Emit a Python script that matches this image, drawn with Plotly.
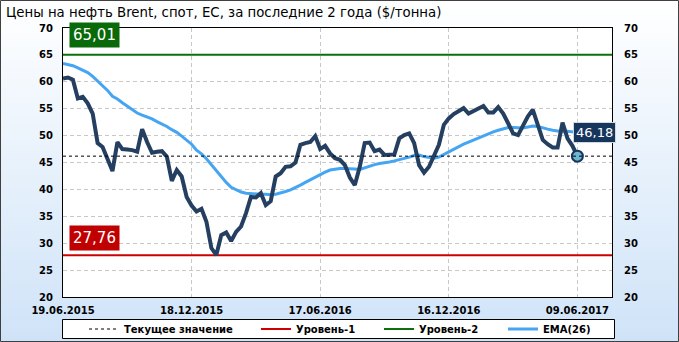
import base64
import plotly.graph_objects as go

# ---------------- data ----------------
title_text = "Цены на нефть Brent, спот, ЕС, за последние 2 года ($/тонна)"

tick_labels = ["19.06.2015", "18.12.2015", "17.06.2016", "16.12.2016", "09.06.2017"]
tick_index = [0, 26, 52, 78, 104]

price = [
    60.6, 60.8, 60.4, 56.9, 57.2, 56.0, 54.1, 48.6, 47.9, 45.8,
    43.4, 48.8, 47.5, 47.4, 47.3, 47.0, 51.2, 48.8, 46.8, 47.0,
    47.1, 46.1, 41.6, 43.6, 42.4, 38.6, 37.0, 35.9, 36.4, 34.0,
    29.1, 27.8, 31.5, 32.0, 30.4, 32.1, 33.1, 35.6, 38.6, 38.5,
    39.3, 37.1, 37.8, 42.4, 43.0, 44.2, 44.3, 45.0, 48.3, 48.6,
    48.8, 49.9, 47.5, 48.1, 46.7, 45.8, 45.5, 44.5, 42.2, 40.8,
    44.2, 48.6, 48.7, 47.1, 47.4, 46.4, 46.4, 46.5, 49.5, 50.1,
    50.4, 48.6, 44.5, 43.1, 44.2, 46.5, 48.3, 52.0, 53.2, 54.0,
    54.5, 55.1, 54.1, 54.6, 55.0, 55.5, 54.3, 54.3, 55.3, 54.1,
    52.3, 50.4, 50.1, 51.7, 53.6, 54.8, 51.7, 49.2, 48.4, 47.8,
    47.8, 52.4, 49.5, 48.1, 46.18,
]

ema26 = [
    63.4, 63.2, 63.0, 62.6, 62.2, 61.7, 61.0, 60.1, 59.3, 58.4,
    57.3, 56.8, 56.1, 55.5, 54.8, 54.2, 53.8, 53.5, 53.1, 52.6,
    52.2, 51.7, 51.1, 50.6, 49.9, 49.2, 48.4, 47.3, 46.6, 45.7,
    44.6, 43.4, 42.2, 41.3, 40.4, 39.9, 39.5, 39.3, 39.2, 39.2,
    39.1, 39.1, 39.0, 39.1, 39.3, 39.6, 39.9, 40.3, 40.8, 41.3,
    41.8, 42.3, 42.8, 43.2, 43.6, 43.8, 43.9, 43.9, 43.9, 43.8,
    43.7, 44.0, 44.4, 44.6, 44.8, 44.9, 45.1, 45.3, 45.5, 45.7,
    46.0, 46.3, 46.4, 46.1, 45.9, 45.8, 46.0, 46.5, 47.0, 47.5,
    48.0, 48.4, 48.8, 49.2, 49.5, 49.9, 50.3, 50.7, 51.0, 51.3,
    51.5, 51.5, 51.4, 51.4, 51.6, 51.8, 51.7, 51.4, 51.2, 51.0,
    50.8, 50.7, 50.8, 50.7, 50.6,
]

current_value = 46.18
level1 = 27.76
level2 = 65.01

legend_names = ["Текущее значение", "Уровень-1", "Уровень-2", "EMA(26)"]

# ---------------- geometry / styling ----------------
W, H = 679, 342
ML, MR, MT, MB = 63, 67, 28, 45
PW, PH = W - ML - MR, H - MT - MB
X_RANGE = [0, 111]
Y_RANGE = [20, 70]


def px_x(p):
    return (p - ML) / PW


def px_y(p):
    return (H - MB - p) / PH


def fmt(v):
    return f"{v:.2f}".replace(".", ",")


idx = list(range(len(price)))
fig = go.Figure()

fig.add_trace(go.Scatter(
    x=X_RANGE, y=[level1, level1], mode="lines", name=legend_names[1],
    line=dict(color="#cc0000", width=2), legend="legend2", hoverinfo="skip"))
fig.add_trace(go.Scatter(
    x=X_RANGE, y=[level2, level2], mode="lines", name=legend_names[2],
    line=dict(color="#0a700a", width=2), legend="legend3", hoverinfo="skip"))
fig.add_trace(go.Scatter(
    x=idx, y=ema26, mode="lines", name=legend_names[3],
    line=dict(color="#45a5f2", width=3), legend="legend4"))
fig.add_trace(go.Scatter(
    x=idx, y=price, mode="lines", name="Brent", showlegend=False,
    line=dict(color="#243f60", width=4)))
fig.add_trace(go.Scatter(
    x=X_RANGE, y=[current_value, current_value], mode="lines",
    name=legend_names[0], yaxis="y2", legend="legend",
    line=dict(color="black", width=1, dash="3px,3px"), hoverinfo="skip"))
fig.add_trace(go.Scatter(
    x=[idx[-1]], y=[price[-1]], mode="markers", showlegend=False,
    marker=dict(size=11, color="#6cb6cf", line=dict(color="#17365d", width=2))))

# background gradient
svg = (
    f'<svg xmlns="http://www.w3.org/2000/svg" width="{W}" height="{H}" '
    f'viewBox="0 0 {W} {H}" preserveAspectRatio="none">'
    '<defs><linearGradient id="g" x1="0" y1="0" x2="0" y2="1">'
    '<stop offset="0" stop-color="#ffffff"/>'
    '<stop offset="1" stop-color="#cfe3f8"/></linearGradient></defs>'
    f'<rect width="{W}" height="{H}" fill="url(#g)"/></svg>'
)
bg_src = "data:image/svg+xml;base64," + base64.b64encode(svg.encode()).decode()

tick_font = dict(family="DejaVu Sans", size=10, color="black", weight="bold")
grid_kw = dict(showgrid=True, gridcolor="#c8c8c8", gridwidth=1, griddash="4px,3px")
legend_font = dict(family="DejaVu Sans", size=10, color="black", weight="bold")


def legend_at(px_left):
    return dict(orientation="h", x=px_x(px_left), xanchor="left",
                y=px_y(329), yanchor="middle", bgcolor="rgba(0,0,0,0)",
                borderwidth=0, font=legend_font, itemwidth=30)


fig.update_layout(
    width=W, height=H,
    margin=dict(l=ML, r=MR, t=MT, b=MB, pad=0, autoexpand=False),
    paper_bgcolor="#e8f1fb",
    plot_bgcolor="white",
    title=dict(text=title_text, x=6 / W, xanchor="left", xref="container",
               y=1 - 12 / H, yanchor="middle", yref="container",
               font=dict(family="DejaVu Sans", size=13.3, color="black")),
    xaxis=dict(range=X_RANGE, tickmode="array", tickvals=tick_index,
               ticktext=tick_labels, tickfont=tick_font,
               showline=True, linecolor="black", linewidth=1, mirror=True,
               zeroline=False, ticks="", ticklabelstandoff=4, **grid_kw),
    yaxis=dict(range=Y_RANGE, dtick=5, tickfont=tick_font,
               showline=True, linecolor="black", linewidth=1, mirror=True,
               zeroline=False, ticks="", ticklabelstandoff=7, **grid_kw),
    yaxis2=dict(range=Y_RANGE, dtick=5, tickfont=tick_font, overlaying="y",
                side="right", showgrid=False, zeroline=False,
                showline=True, linecolor="black", linewidth=1, ticks="",
                ticklabelstandoff=9),
    showlegend=True,
    legend=legend_at(84),
    legend2=legend_at(256),
    legend3=legend_at(379),
    legend4=legend_at(503),
    images=[dict(source=bg_src, xref="paper", yref="paper",
                 x=px_x(0), y=px_y(0), sizex=W / PW, sizey=H / PH,
                 xanchor="left", yanchor="top", sizing="stretch", layer="below")],
    shapes=[
        dict(type="rect", xref="paper", yref="paper", layer="below",
             x0=0, x1=1, y0=0, y1=1, fillcolor="white", line=dict(width=0)),
        dict(type="rect", xref="paper", yref="paper", layer="above",
             x0=px_x(62.5), x1=px_x(614.5), y0=px_y(338.5), y1=px_y(319.5),
             fillcolor="white", line=dict(color="black", width=1)),
        dict(type="rect", xref="paper", yref="paper", layer="above",
             x0=px_x(0.5), x1=px_x(W - 0.5), y0=px_y(H - 0.5), y1=px_y(0.5),
             fillcolor="rgba(0,0,0,0)", line=dict(color="#404040", width=1)),
    ],
    annotations=[
        dict(text=fmt(level2), x=1.2, y=level2 + 1.3, xref="x", yref="y",
             xanchor="left", yanchor="bottom", showarrow=False,
             bgcolor="#0a6a0a", borderpad=3,
             font=dict(family="DejaVu Sans", size=15, color="white")),
        dict(text=fmt(level1), x=1.2, y=level1 + 0.7, xref="x", yref="y",
             xanchor="left", yanchor="bottom", showarrow=False,
             bgcolor="#c00000", borderpad=3,
             font=dict(family="DejaVu Sans", size=15, color="white")),
        dict(text=fmt(current_value), x=idx[-1], y=current_value, xref="x", yref="y",
             xanchor="left", yanchor="bottom", xshift=-4, yshift=13,
             showarrow=False, bgcolor="#17365d", bordercolor="#d0d8e0",
             borderwidth=1, borderpad=2,
             font=dict(family="DejaVu Sans", size=13, color="white")),
    ],
)

fig.write_html("out.html")
